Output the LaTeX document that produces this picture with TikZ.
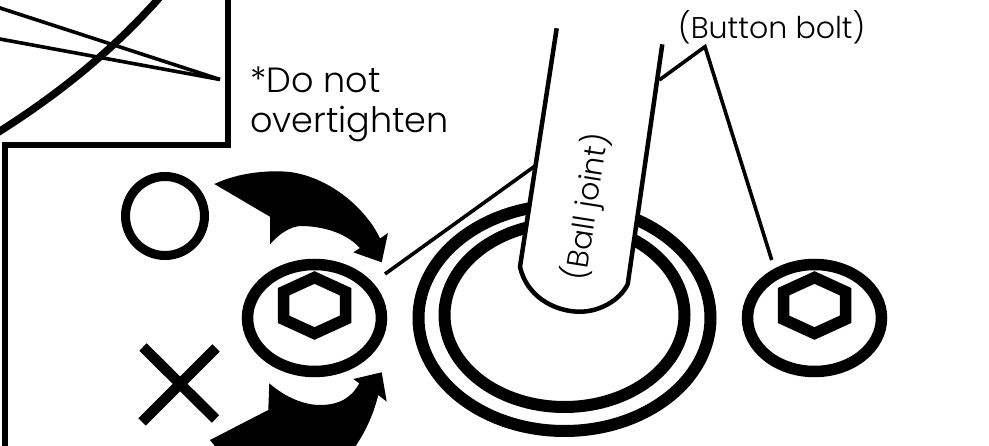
\documentclass[tikz,border=0pt]{standalone}
\usepackage{fontspec}
\usepackage{tikz}
\setmainfont{Poppins}[UprightFont=* Light]
\usetikzlibrary{shapes.geometric,positioning,calc}

\begin{document}
\begin{tikzpicture}[
    x=1pt, y=-1pt,
    ring/.style={ellipse, draw, inner sep=0pt, line width=#1},
    frameline/.style={line width=6pt, miter limit=10},
    leader/.style={line width=3.6pt},
    label/.style={inner sep=0pt, anchor=base west, font=\fontsize{35}{42}\selectfont},
    partname/.style={inner sep=0pt, font=\fontsize{30}{36}\selectfont}
]
    \useasboundingbox (0,0) rectangle (989,446);
    \clip (0,0) rectangle (989,446);

    % corner of the inset frame
    \draw[frameline] (228,-5) -- (228,144.7) -- (4.7,144.7) -- (4.7,451);
    \draw[line width=7.5pt] (-3,133) .. controls (62,92) and (115,48) .. (160,-3);
    \coordinate (tip) at (220,79.5);
    \draw[leader] (-3,7) -- (tip);
    \draw[leader] (-3,38.5) -- (tip);

    % right and wrong marks
    \node[circle, draw, line width=9pt, minimum size=79pt, inner sep=0pt] (good) at (165,216) {};
    \coordinate (xa) at (143,347);
    \coordinate (xb) at (215.5,419);
    \coordinate (xc) at (216,348);
    \coordinate (xd) at (142,422);
    \draw[line width=10.5pt] (xa) -- (xb) (xc) -- (xd);

    % turning arrows
    \fill (214.3,184) .. controls (240,172) and (270,170) .. (290,172)
        .. controls (333,178) and (368,212) .. (380,238.5) -- (388,233) -- (381.7,262.3)
        -- (353.3,252.3) -- (360,248) .. controls (343,230) and (317,226) .. (300,226)
        .. controls (290,227) and (280,233) .. (270,244.3) -- (270,216.7) -- cycle;
    \fill (210,440) -- (268.3,410) -- (269.3,383.3)
        .. controls (286,398) and (305,405) .. (320,405)
        .. controls (340,405) and (352,397) .. (359.3,383.3) -- (353.3,379) -- (381.7,372.3)
        -- (386.7,401.7) -- (378.3,395) .. controls (372,420) and (362,437) .. (353,450)
        -- (218,450) -- cycle;

    % socket bolts
    \node[ring=11.5pt, minimum width=134pt, minimum height=107pt] (boltA) at (314.5,318) {};
    \node[ring=11.5pt, minimum width=134pt, minimum height=107pt] (boltB) at (814.5,318) {};
    \foreach \bx in {0,500} {
        \draw[line width=11.5pt, shift={(\bx,0)}] (314.5,277.5) -- (345.5,291.7) -- (345.5,319.3)
            -- (314.5,333.5) -- (283.5,319.3) -- (283.5,291.7) -- cycle;
    }

    % ball joint seat and wrench
    \node[ring=12pt, minimum width=292pt, minimum height=226pt] (seatO) at (564.5,318) {};
    \node[ring=12pt, minimum width=240pt, minimum height=184pt] (seatI) at (564.5,315) {};
    \coordinate (wrL) at (556.7,28.3);
    \coordinate (wrR) at (662.3,44.3);
    \draw[line width=4.5pt, fill=white] (wrL) -- (520,266.7)
        .. controls (526,295) and (553,311.7) .. (580,311.7)
        .. controls (600,311.7) and (620,300) .. (627.7,284.3) -- (wrR);

    % leaders
    \coordinate (ballA) at (385,274);
    \coordinate (ballB) at (535,166);
    \draw[leader] (ballA) -- (ballB);
    \coordinate (btnA) at (659.3,80);
    \coordinate (btnB) at (705,46.7);
    \coordinate (btnC) at (771.7,260);
    \draw[leader, miter limit=10] (btnA) -- (btnB) -- (btnC);

    % texts
    \node[label] (warn1) at (250,93) {*Do not};
    \node[label] (warn2) at (250,133) {overtighten};
    \node[partname, anchor=base west] (button) at (678,39) {(Button bolt)};
    \node[partname, rotate=81] (ball) at (587,207) {(Ball joint)};
\end{tikzpicture}
\end{document}
